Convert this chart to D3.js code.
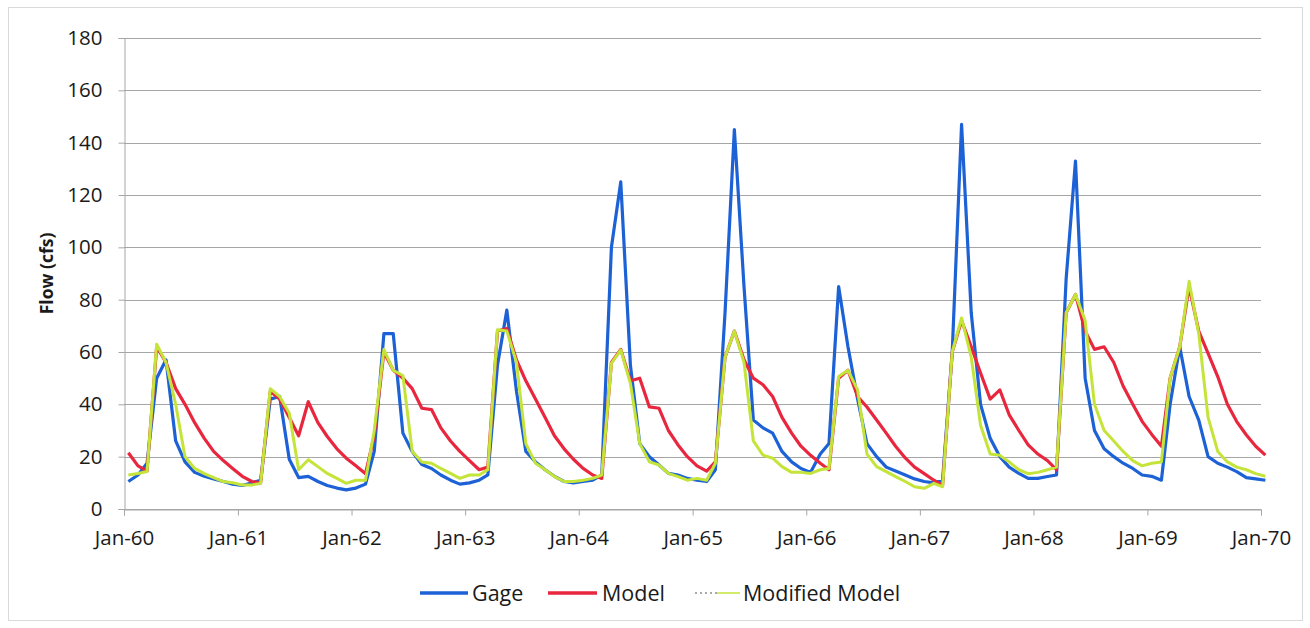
<!DOCTYPE html>
<html>
<head>
<meta charset="utf-8">
<script src="https://cdn.jsdelivr.net/npm/d3@7"></script>
<style>
  html, body { margin: 0; padding: 0; background: #ffffff; }
  svg { display: block; font-family: "Open Sans", "Lato", sans-serif; }
</style>
</head>
<body>
<svg id="chart" width="1310" height="628"></svg>
<script>
// Monthly flow, Jan-1960 .. Jan-1970 (one value per month, plotted mid-month)
const gage = [
  10.5, 13, 17.5, 50, 57, 26, 18, 14, 12.5, 11.5, 10.5, 9.5,
  9, 10, 11, 42, 43, 19, 12, 12.5, 10.5, 9, 8, 7.3,
  8, 9.5, 22, 67, 67, 29, 22, 17, 15.5, 13, 11, 9.5,
  10, 11, 13, 55, 76, 45, 22, 18, 15, 12.5, 10.5, 10,
  10.5, 11, 13, 100, 125, 55, 25, 20, 16.8, 13.6, 13, 11.7,
  11, 10.5, 15, 75, 145, 85, 34, 31, 29, 22, 18, 15.5,
  14, 21, 25, 85, 62, 42, 25, 20, 16, 14.5, 13, 11.5,
  10.5, 10, 11, 60, 147, 75, 40, 27, 20, 16, 13.6, 11.7,
  11.7, 12.4, 13, 88, 133, 50, 30, 23, 20, 17.5, 15.5, 13,
  12.5, 11, 40, 62, 43, 34, 20, 17.5, 16, 14.3, 12, 11.5,
  11
];
const model = [
  21.5, 16.5, 14.5, 62, 56, 46, 40, 33, 27, 22, 18.5, 15.5,
  12.5, 10.5, 10, 45, 42, 35, 28, 41, 33, 27.7, 23, 19.4,
  16.5, 13.5, 28, 60, 53, 50, 46, 38.5, 38, 31, 26, 22,
  18.5, 15, 16, 68, 69, 57, 49, 42, 35, 28, 23, 19,
  15.5, 13, 11.7, 56, 61, 49, 50, 39, 38.5, 30, 24.5, 20,
  16.5, 14.5, 18, 58, 68, 57, 50, 47.5, 43, 35, 29, 24,
  20.5, 17.5, 15, 50, 53, 43, 39, 34, 29, 24, 19.5, 16,
  13.5, 11, 9, 60, 72, 62, 52, 42, 45.5, 36, 30, 24.5,
  21, 18.5, 15, 75, 82, 68, 61, 62, 56, 47, 40, 33.5,
  28.5, 24, 50, 62, 85, 68, 59.5, 50.6, 40, 33.4, 28.3, 24,
  20.6
];
const modified = [
  13, 13.6, 14.3, 63, 56, 40, 20, 15.5, 13.5, 12, 10.5, 10,
  9.2, 9.2, 9.8, 46, 43, 36.6, 15, 18.8, 16.2, 13.6, 11.7, 9.8,
  11, 11, 30, 61, 53, 51, 22, 18, 17.5, 15.5, 13.6, 11.7,
  13, 13, 15, 68.5, 68, 56, 25, 17.5, 15, 12.4, 10.5, 10.5,
  11, 11.7, 13, 55.7, 60.8, 48, 25, 18, 16.8, 13.6, 12.4, 11,
  11.7, 11, 17.5, 58, 68, 56, 26, 20.6, 19.4, 16.2, 14, 14,
  13.6, 15, 15.5, 50.6, 53, 45.5, 21, 16.2, 14.3, 12.4, 10.5, 8.5,
  7.9, 9.8, 8.5, 60, 73, 58, 32, 21, 20.5, 18, 15, 13.5,
  14, 15, 16, 75, 82, 72, 40, 30, 26, 22, 18.5, 16.5,
  17.5, 18, 50, 62, 87, 67, 35, 22, 18, 16, 15, 13.5,
  12.5
];
const yTicks = [0, 20, 40, 60, 80, 100, 120, 140, 160, 180];
const xTickYears = [1960, 1961, 1962, 1963, 1964, 1965, 1966, 1967, 1968, 1969, 1970];

const series = [
  { name: "Gage", values: gage, color: "#1c61d6", width: 3.2 },
  { name: "Model", values: model, color: "#e8273f", width: 3.2 },
  { name: "Modified Model", values: modified, color: "#c5e43a", width: 3 }
];

const svg = d3.select("#chart");
const m = { left: 124, right: 1261, top: 38, bottom: 509 };
const textColor = "#1a1a1a";

// outer frame
svg.append("rect")
  .attr("x", 8.5).attr("y", 7.5)
  .attr("width", 1294).attr("height", 613)
  .attr("fill", "#fff").attr("stroke", "#d9d9d9").attr("stroke-width", 1);

const x = d3.scaleTime()
  .domain([new Date(1960, 0, 1), new Date(1970, 0, 1)])
  .range([m.left, m.right]);
const y = d3.scaleLinear().domain([0, 180]).range([m.bottom, m.top]);

// gridlines
svg.append("g").selectAll("line")
  .data(yTicks)
  .join("line")
  .attr("x1", m.left).attr("x2", m.right)
  .attr("y1", d => Math.round(y(d)) + 0.5).attr("y2", d => Math.round(y(d)) + 0.5)
  .attr("stroke", "#a6a6a6").attr("stroke-width", 1);

// y axis
const yAxis = d3.axisLeft(y).tickValues(yTicks).tickSize(6).tickPadding(16);
const gy = svg.append("g").attr("transform", `translate(${m.left + 0.5},0)`).call(yAxis);
gy.select(".domain").attr("stroke", "#a6a6a6");
gy.selectAll(".tick line").attr("stroke", "#a6a6a6");
gy.selectAll(".tick text")
  .attr("font-size", 20.5).attr("fill", textColor)
  .style("font-family", "'Open Sans', sans-serif");

// x axis
const fmt = d3.timeFormat("%b-%y");
const xAxis = d3.axisBottom(x)
  .tickValues(xTickYears.map(yr => new Date(yr, 0, 1)))
  .tickFormat(fmt).tickSize(6).tickPadding(15);
const gx = svg.append("g").attr("transform", `translate(0,${m.bottom + 0.5})`).call(xAxis);
gx.select(".domain").attr("stroke", "#a6a6a6");
gx.selectAll(".tick line").attr("stroke", "#a6a6a6");
gx.selectAll(".tick text")
  .attr("font-size", 20.5).attr("fill", textColor)
  .style("font-family", "'Open Sans', sans-serif");

// y title
svg.append("text")
  .attr("transform", `translate(53,${(m.top + m.bottom) / 2}) rotate(-90)`)
  .attr("text-anchor", "middle")
  .attr("font-size", 17.5).attr("font-weight", "bold").attr("fill", textColor)
  .text("Flow (cfs)");

// lines
const line = d3.line()
  .x((d, i) => x(new Date(1960, i, 15)))
  .y(d => y(d));

series.forEach(s => {
  svg.append("path")
    .datum(s.values)
    .attr("fill", "none")
    .attr("stroke", s.color)
    .attr("stroke-width", s.width)
    .attr("stroke-linejoin", "round")
    .attr("d", line);
});

// legend
const legend = svg.append("g").attr("transform", "translate(0,593)");
const legendItems = [
  { s: series[0], x0: 420, x1: 468, tx: 472 },
  { s: series[1], x0: 548, x1: 597, tx: 602 },
  { s: series[2], x0: 695, x1: 740, tx: 743 }
];
legendItems.forEach(it => {
  if (it.s.name === "Modified Model") {
    legend.append("line")
      .attr("x1", it.x0).attr("x2", it.x0 + 22).attr("y1", 0).attr("y2", 0)
      .attr("stroke", "#555").attr("stroke-width", 1.2).attr("stroke-dasharray", "2,3");
    legend.append("line")
      .attr("x1", it.x0 + 22).attr("x2", it.x1).attr("y1", 0).attr("y2", 0)
      .attr("stroke", it.s.color).attr("stroke-width", 1.5);
  } else {
    legend.append("line")
      .attr("x1", it.x0).attr("x2", it.x1).attr("y1", 0).attr("y2", 0)
      .attr("stroke", it.s.color).attr("stroke-width", 3.5);
  }
  legend.append("text")
    .attr("x", it.tx).attr("y", 7.5)
    .attr("font-size", 21.5).attr("fill", textColor)
    .text(it.s.name);
});
</script>
</body>
</html>
